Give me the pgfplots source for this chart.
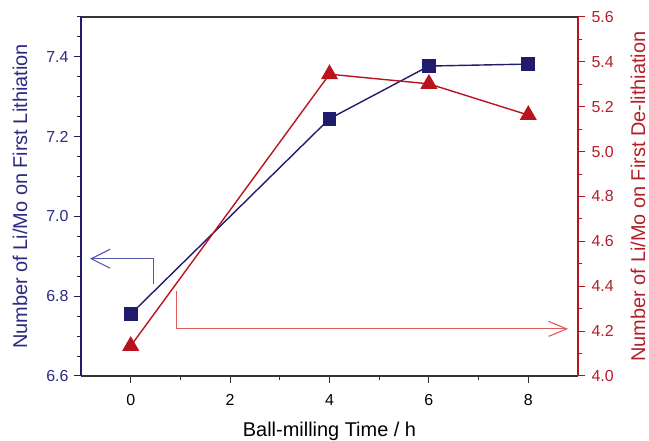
\documentclass[border=0pt]{standalone}
\usepackage{fontspec}
\setmainfont{Liberation Sans}
\usepackage{pgfplots}
\pgfplotsset{compat=1.18}
\usetikzlibrary{arrows.meta}
\definecolor{bl}{RGB}{33,27,110}
\definecolor{rd}{RGB}{185,20,30}
\definecolor{bltxt}{RGB}{45,40,130}
\definecolor{rdtxt}{RGB}{180,30,40}
\definecolor{blarrow}{RGB}{85,85,170}
\definecolor{rdarrow}{RGB}{225,90,90}
\begin{document}
\begin{tikzpicture}
\pgfplotsset{
  every axis/.append style={
    scale only axis, width=497bp, height=359bp,
    xmin=-1, xmax=9,
    tick align=outside,
    /pgf/number format/assume math mode=true,
    tick label style={font=\fontsize{16}{19}\selectfont},
    label style={font=\fontsize{20}{24}\selectfont},
    major tick length=7bp, minor tick length=4bp,
    clip=false,
  }
}
\begin{axis}[name=ax1,
  axis x line*=bottom, axis y line*=left,
  x axis line style={-, black!80, line width=1.2bp},
  y axis line style={-, bl, line width=1.2bp},
  ymin=6.6, ymax=7.5,
  ytick={6.6,6.8,7.0,7.2,7.4},
  minor ytick={6.65,6.7,6.75,6.85,6.9,6.95,7.05,7.1,7.15,7.25,7.3,7.35,7.45,7.5},
  xtick={0,2,4,6,8}, minor xtick={1,3,5,7},
  yticklabel style={color=bltxt, xshift=-2bp, /pgf/number format/.cd, fixed, fixed zerofill, precision=1},
  xticklabel style={yshift=-8bp},
  y tick style={bl, line width=1bp},
  x tick style={black!80, line width=1bp},
  xlabel={Ball-milling Time / h},
  xlabel style={at={([yshift=-61bp]axis description cs:0.5,0)}, anchor=base},
  ylabel={Number of Li/Mo on First Lithiation},
  ylabel style={color=bltxt, at={([xshift=-61bp]axis description cs:0,0.5)}, anchor=center},
]
\addplot[bl, line width=1.4bp, mark=square*, mark size=6.2bp, mark options={fill=bl, draw=bl}]
  coordinates {(0,6.755) (4,7.245) (6,7.377) (8,7.382)};
\draw[blarrow, line width=1.1bp, -{Straight Barb[length=19bp,width=19bp]}]
  (axis cs:0.46,6.83) -- (axis cs:0.46,6.894) -- (axis cs:-0.82,6.894);
\end{axis}
\begin{axis}[
  axis x line*=top, axis y line*=right,
  x axis line style={-, black!80, line width=1.2bp},
  y axis line style={-, rd, line width=1.2bp},
  xtick=\empty,
  ymin=4.0, ymax=5.6,
  ytick={4.0,4.2,4.4,4.6,4.8,5.0,5.2,5.4,5.6},
  minor ytick={4.1,4.3,4.5,4.7,4.9,5.1,5.3,5.5},
  yticklabel style={color=rdtxt, xshift=3bp, /pgf/number format/.cd, fixed, fixed zerofill, precision=1},
  y tick style={rd, line width=1bp},
  ylabel={Number of Li/Mo on First De-lithiation},
  ylabel style={color=rdtxt, at={([xshift=60bp]axis description cs:1,0.5)}, anchor=center},
]
\addplot[rd, line width=1.4bp, mark=triangle*, mark size=8.5bp, mark options={fill=rd, draw=rd}]
  coordinates {(0,4.134) (4,5.345) (6,5.302) (8,5.163)};
\draw[rdarrow, line width=1.1bp, -{Straight Barb[length=18bp,width=15bp]}]
  (axis cs:0.92,4.379) -- (axis cs:0.92,4.21) -- (axis cs:8.8,4.21);
\end{axis}
\pgfresetboundingbox
\path ([xshift=-81bp,yshift=-65bp]ax1.south west) rectangle ([xshift=71bp,yshift=17bp]ax1.north east);
\end{tikzpicture}
\end{document}
